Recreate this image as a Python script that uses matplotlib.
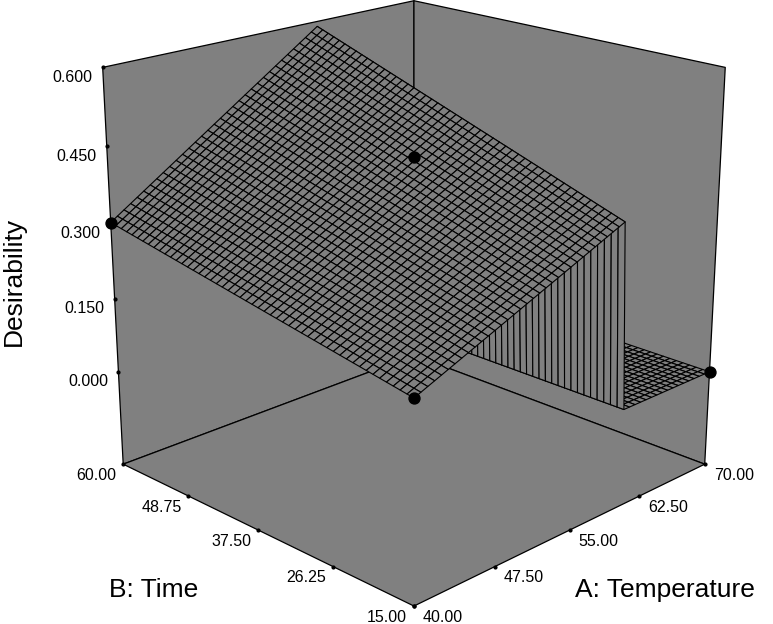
import numpy as np
import matplotlib
matplotlib.use("Agg")
import matplotlib.pyplot as plt
from mpl_toolkits.mplot3d import proj3d
from mpl_toolkits.mplot3d.art3d import Poly3DCollection

plt.rcParams['font.family'] = ['Liberation Sans', 'DejaVu Sans']

# Axis ticks
a_ticks = [40.0, 47.5, 55.0, 62.5, 70.0]
b_ticks = [15.0, 26.25, 37.5, 48.75, 60.0]
z_ticks = [0.0, 0.15, 0.30, 0.45, 0.60]
z_floor = -0.195

# Surface heights read at the corners of the sloped part, the rest is flat at 0
a_edge = [40.0, 59.8]
b_edge = [15.0, 60.0]
z_edge = [[0.188, 0.367],   # B=15
          [0.302, 0.59]]    # B=60
z_flat = 0.0

# Design points
pts_a = [40.0, 40.0, 70.0, 70.0]
pts_b = [15.0, 60.0, 15.0, 60.0]
pts_z = [0.188, 0.302, 0.0, 0.262]

gray = "#808080"
W, H = 773, 624

fig = plt.figure(figsize=(W / 100, H / 100), dpi=100)
ax = fig.add_axes([54.5 / W, -8 / H, 700 / W, 700 / H], projection="3d",
                  computed_zorder=False)
ax.set_proj_type("persp", focal_length=0.55)
ax.view_init(elev=19.7, azim=-135)
ax.set_xlim(40, 70, view_margin=0)
ax.set_ylim(15, 60, view_margin=0)
ax.set_zlim(z_floor, 0.6, view_margin=0)
ax.set_box_aspect((1, 1, 0.99), zoom=1.018)
ax.set_axis_off()

# Floor and the two back walls
a0, a1, b0, b1 = 40, 70, 15, 60
z0, z1 = z_floor, 0.6
floor = [(a0, b0, z0), (a1, b0, z0), (a1, b1, z0), (a0, b1, z0)]
wall_b = [(a0, b1, z0), (a1, b1, z0), (a1, b1, z1), (a0, b1, z1)]
wall_a = [(a1, b0, z0), (a1, b1, z0), (a1, b1, z1), (a1, b0, z1)]
panes = Poly3DCollection([floor, wall_b, wall_a], facecolor=gray,
                         edgecolor="black", linewidth=0.9, zorder=1)
ax.add_collection3d(panes)

# Mesh
a_mesh = np.linspace(40, 70, 51)
b_mesh = np.linspace(15, 60, 51)
A, B = np.meshgrid(a_mesh, b_mesh)
ta = (A - a_edge[0]) / (a_edge[1] - a_edge[0])
tb = (B - b_edge[0]) / (b_edge[1] - b_edge[0])
Z = ((1 - tb) * ((1 - ta) * z_edge[0][0] + ta * z_edge[0][1])
     + tb * ((1 - ta) * z_edge[1][0] + ta * z_edge[1][1]))
Z[A > a_edge[1] + 0.01] = z_flat
ax.plot_surface(A, B, Z, rstride=1, cstride=1, color=gray, edgecolor="black",
                linewidth=0.8, shade=False, zorder=3)

ax.scatter(pts_a, pts_b, pts_z, s=62, c="black", depthshade=False, zorder=6)

# Tick dots
ax.scatter(a_ticks, [b0] * 5, [z0] * 5, s=4, c="black", depthshade=False, zorder=2)
ax.scatter([a0] * 5, b_ticks, [z0] * 5, s=4, c="black", depthshade=False, zorder=2)
ax.scatter([a0] * 5, [b1] * 5, z_ticks, s=4, c="black", depthshade=False, zorder=2)


def label(x, y, z, txt, dx, dy, ha="center"):
    px, py, _ = proj3d.proj_transform(x, y, z, ax.get_proj())
    ax.annotate(txt, (px, py), xytext=(dx * 0.72, dy * 0.72),
                textcoords="offset points", ha=ha, va="center",
                fontsize=11.5, annotation_clip=False)


for v in a_ticks:
    label(v, b0, z0, f"{v:.2f}", 29, -11)
for v in b_ticks:
    label(a0, v, z0, f"{v:.2f}", -27, -11)
for v in z_ticks:
    label(a0, b1, v, f"{v:.3f}", -10, -10, ha="right")

fig.text(154 / W, 1 - 590 / H, "B: Time", fontsize=19, ha="center", va="center")
fig.text(665 / W, 1 - 590 / H, "A: Temperature", fontsize=19, ha="center", va="center")
fig.text(14 / W, 1 - 281 / H, "Desirability", fontsize=19, rotation=90,
         ha="center", va="center")

fig.savefig("out.png", dpi=100)
